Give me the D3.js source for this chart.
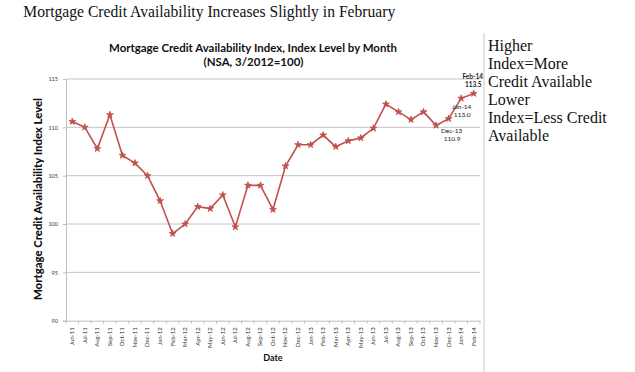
<!DOCTYPE html>
<html><head><meta charset="utf-8">
<script src="https://cdn.jsdelivr.net/npm/d3@7"></script>
<style>
html,body{margin:0;padding:0;background:#fff;}
svg{display:block;}
</style></head>
<body>
<svg id="c" width="635" height="372"></svg>
<script>
const months = ["Jun-11","Jul-11","Aug-11","Sep-11","Oct-11","Nov-11","Dec-11",
  "Jan-12","Feb-12","Mar-12","Apr-12","May-12","Jun-12","Jul-12","Aug-12","Sep-12","Oct-12","Nov-12","Dec-12",
  "Jan-13","Feb-13","Mar-13","Apr-13","May-13","Jun-13","Jul-13","Aug-13","Sep-13","Oct-13","Nov-13","Dec-13",
  "Jan-14","Feb-14"];
const values = [110.6,110.0,107.8,111.3,107.1,106.3,105.0,
  102.4,99.0,100.0,101.8,101.6,103.0,99.7,104.0,104.0,101.5,106.0,108.2,
  108.2,109.2,108.0,108.6,108.9,109.9,112.4,111.6,110.8,111.6,110.2,110.9,
  113.0,113.5];
const yTicks = [90,95,100,105,110,115];
const annotations = [
  {month:"Dec-13", name:"Dec-13", text:"110.9", bold:false},
  {month:"Jan-14", name:"Jan-14", text:"113.0", bold:false},
  {month:"Feb-14", name:"Feb-14", text:"113.5", bold:true}
];
const noteLines = ["Higher","Index=More","Credit Available","Lower","Index=Less Credit","Available"];

const svg = d3.select("#c");
const x = d3.scaleBand().domain(months).range([66,480]).padding(0);
const y = d3.scaleLinear().domain([90,115]).range([320.7,79]);
const sans = "Lato, 'Open Sans', 'Liberation Sans', sans-serif";
const serif = "'Liberation Serif', 'Times New Roman', serif";

// page title
svg.append("text").attr("x",23.3).attr("y",16.7)
  .attr("font-family",serif).attr("font-size",16.5).attr("fill","#111")
  .attr("textLength",372).attr("lengthAdjust","spacingAndGlyphs")
  .text("Mortgage Credit Availability Increases Slightly in February");

// chart titles
svg.append("text").attr("x",109).attr("y",51.7)
  .attr("font-family",sans).attr("font-weight","bold").attr("font-size",11).attr("fill","#111")
  .attr("textLength",288).attr("lengthAdjust","spacingAndGlyphs")
  .text("Mortgage Credit Availability Index, Index Level by Month");
svg.append("text").attr("x",203.5).attr("y",66.2)
  .attr("font-family",sans).attr("font-weight","bold").attr("font-size",11).attr("fill","#111")
  .attr("textLength",100).attr("lengthAdjust","spacingAndGlyphs")
  .text("(NSA, 3/2012=100)");

// gridlines
svg.append("g").selectAll("line").data(yTicks.filter(d=>d>90)).join("line")
  .attr("x1",66).attr("x2",480).attr("y1",d=>y(d)).attr("y2",d=>y(d))
  .attr("stroke","#c6c6c6").attr("stroke-width",1);

// y axis
const yAxis = svg.append("g").attr("transform","translate(66,0)")
  .call(d3.axisLeft(y).tickValues(yTicks).tickSize(3).tickPadding(5).tickFormat(d3.format("d")));
yAxis.select(".domain").attr("stroke","#bdbdbd");
yAxis.selectAll(".tick line").attr("stroke","#bdbdbd");
yAxis.selectAll("text").attr("font-family",sans).attr("font-size",5.5).attr("fill","#333");

// x axis
const xAxis = svg.append("g").attr("transform",`translate(0,${y(90)})`)
  .call(d3.axisBottom(x).tickSize(0).tickPadding(0));
xAxis.select(".domain").attr("stroke","#bdbdbd");
xAxis.selectAll(".tick text")
  .attr("font-family",sans).attr("font-size",6).attr("fill","#333")
  .attr("text-anchor","end").attr("dy","0.32em")
  .attr("transform","translate(0,6.5) rotate(-90)").attr("y",0).attr("x",0);
// tick marks between categories
xAxis.append("g").selectAll("line").data(months.concat(["_end"])).join("line")
  .attr("x1",(d,i)=>66+i*x.bandwidth()).attr("x2",(d,i)=>66+i*x.bandwidth())
  .attr("y1",0).attr("y2",3).attr("stroke","#bdbdbd");

// axis titles
svg.append("text").attr("transform","translate(41.5,199) rotate(-90)")
  .attr("text-anchor","middle").attr("font-family",sans).attr("font-weight","900")
  .attr("font-size",11.5).attr("fill","#111")
  .attr("textLength",202).attr("lengthAdjust","spacingAndGlyphs")
  .text("Mortgage Credit Availability Index Level");
svg.append("text").attr("x",273).attr("y",361.3).attr("text-anchor","middle")
  .attr("font-family",sans).attr("font-weight","bold").attr("font-size",9).attr("fill","#111")
  .text("Date");

// line
const cx = m => x(m) + x.bandwidth()/2;
const line = d3.line().x((d,i)=>cx(months[i])).y(d=>y(d));
svg.append("path").datum(values).attr("d",line)
  .attr("fill","none").attr("stroke","#c0504d").attr("stroke-width",1.6);
svg.append("g").selectAll("path").data(values).join("path")
  .attr("transform",(d,i)=>`translate(${cx(months[i])},${y(d)})`)
  .attr("d",d3.symbol().type(d3.symbolStar).size(14))
  .attr("fill","#c0504d").attr("stroke","#c0504d").attr("stroke-width",0.8);

// annotations
const annOffsets = {"Dec-13":[3,14,22.5], "Jan-14":[0.5,10.5,18.5], "Feb-14":[-1,-15,-6.5]};
annotations.forEach(a=>{
  const i = months.indexOf(a.month);
  const px = cx(a.month), py = y(values[i]);
  const o = annOffsets[a.month];
  const g = svg.append("g").attr("font-family",sans).attr("font-size",6.5)
    .attr("fill","#222").attr("text-anchor","middle")
    .attr("font-weight",a.bold?"bold":"normal");
  g.append("text").attr("x",px+o[0]).attr("y",py+o[1]).text(a.name);
  g.append("text").attr("x",px+o[0]+0.5).attr("y",py+o[2]).text(a.text);
});

// separator and note
svg.append("line").attr("x1",484).attr("x2",484).attr("y1",33).attr("y2",372)
  .attr("stroke","#c8c8c8").attr("stroke-width",1);
svg.append("g").selectAll("text").data(noteLines).join("text")
  .attr("x",488).attr("y",(d,i)=>51+i*18)
  .attr("font-family",serif).attr("font-size",16).attr("fill","#111")
  .text(d=>d);
</script>
</body></html>
